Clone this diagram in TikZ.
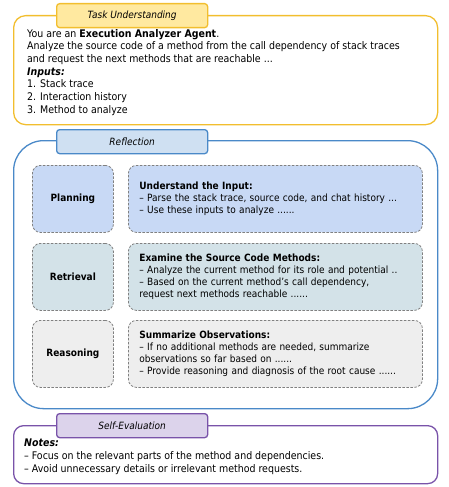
\documentclass[tikz,border=0pt]{standalone}
\usepackage{fontspec}
\setmainfont{DejaVu Sans Condensed}
\usetikzlibrary{positioning}

\definecolor{taskline}{HTML}{F2BE2E}
\definecolor{taskfill}{HTML}{FFE9A0}
\definecolor{refline}{HTML}{4A89C8}
\definecolor{reffill}{HTML}{CFE0F2}
\definecolor{evalline}{HTML}{7953A9}
\definecolor{evalfill}{HTML}{DCD3EB}
\definecolor{planfill}{HTML}{C8D9F5}
\definecolor{retrfill}{HTML}{D3E2E8}
\definecolor{reasfill}{HTML}{EEEEEE}
\definecolor{dashline}{HTML}{808080}

\tikzset{
  outerbox/.style={draw, line width=1.3pt, rounded corners=12pt, anchor=north west},
  tabbox/.style={draw, line width=1.3pt, rounded corners=3pt, anchor=north west,
    minimum width=151pt, minimum height=24pt, font=\itshape},
  phasebox/.style={draw=dashline, dash pattern=on 2.5pt off 1.5pt, line width=0.8pt,
    rounded corners=8pt, anchor=north west, minimum width=81pt, minimum height=67pt,
    font=\bfseries},
  detailbox/.style={phasebox, font=\normalfont, text width=272pt, inner xsep=11pt,
    align=left},
  plain/.style={anchor=north west, align=left, inner sep=0pt},
}

\begin{document}
\begin{tikzpicture}[x=1pt, y=-1pt, font=\fontsize{10.5}{12.7}\selectfont]
\useasboundingbox (0,0) rectangle (449,487);

% task understanding
\node[outerbox, draw=taskline, fill=white, minimum width=424pt, minimum height=109pt] (task) at (13,15) {};
\node[tabbox, draw=taskline, fill=taskfill] (tasktab) at (56,3) {Task Understanding};
\node[plain] (tasktext) at (27,29) {You are an \textbf{Execution Analyzer Agent}.\\
Analyze the source code of a method from the call dependency of stack traces\\
and request the next methods that are reachable ...\\
\textbf{\itshape Inputs:}\\
1. Stack trace\\
2. Interaction history\\
3. Method to analyze};

% reflection
\node[outerbox, draw=refline, rounded corners=30pt, minimum width=424pt, minimum height=268pt] (refl) at (13,140) {};
\node[tabbox, draw=refline, fill=reffill] (refltab) at (56,129) {Reflection};

\node[phasebox, fill=planfill] (plan) at (32,165) {Planning};
\node[detailbox, fill=planfill] (plantext) at (128,165) {\textbf{Understand the Input:}\\
-- Parse the stack trace, source code, and chat history ...\\
-- Use these inputs to analyze ......};

\node[phasebox, fill=retrfill] (retr) at (32,243) {Retrieval};
\node[detailbox, fill=retrfill] (retrtext) at (128,243) {\textbf{Examine the Source Code Methods:}\\
-- Analyze the current method for its role and potential ..\\
-- Based on the current method's call dependency,\\
request next methods reachable ......};

\node[phasebox, fill=reasfill] (reas) at (32,320) {Reasoning};
\node[detailbox, fill=reasfill] (reastext) at (128,320) {\textbf{Summarize Observations:}\\
-- If no additional methods are needed, summarize\\
observations so far based on ......\\
-- Provide reasoning and diagnosis of the root cause ......};

% self-evaluation
\node[outerbox, draw=evalline, rounded corners=10pt, minimum width=424pt, minimum height=58pt] (eval) at (13,425) {};
\node[tabbox, draw=evalline, fill=evalfill] (evaltab) at (56,413) {Self-Evaluation};
\node[plain] (evaltext) at (24,439) {\textbf{\itshape Notes:}\\
-- Focus on the relevant parts of the method and dependencies.\\
-- Avoid unnecessary details or irrelevant method requests.};
\end{tikzpicture}
\end{document}
